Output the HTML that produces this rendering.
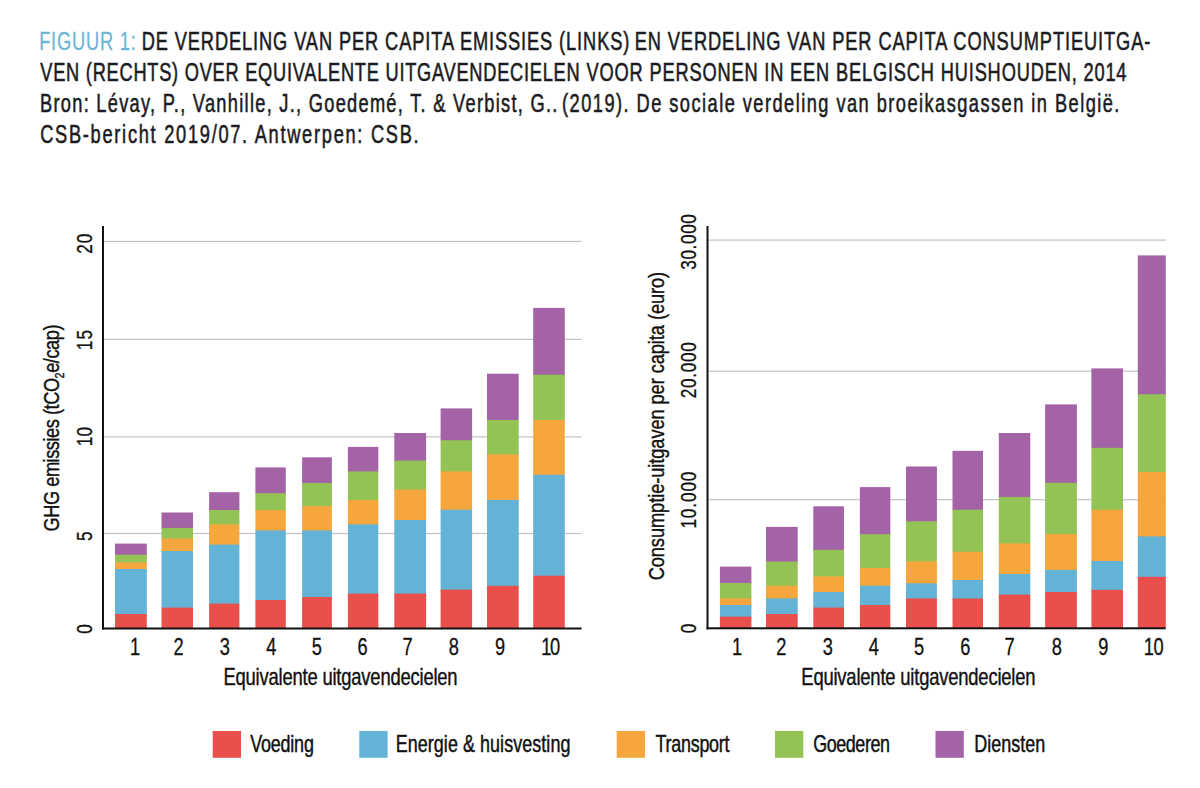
<!DOCTYPE html>
<html><head><meta charset="utf-8"><title>Figuur 1</title>
<style>
html,body{margin:0;padding:0;background:#fff;width:1200px;height:788px;overflow:hidden}
svg{display:block}
text{font-family:"Liberation Sans",sans-serif}
</style></head><body>
<svg width="1200" height="788" viewBox="0 0 1200 788">
<rect width="1200" height="788" fill="#fff"/>
<rect x="104" y="240.8" width="477.5" height="1.2" fill="#c2c2c2"/>
<rect x="104" y="338.79999999999995" width="477.5" height="1.2" fill="#c2c2c2"/>
<rect x="104" y="436.29999999999995" width="477.5" height="1.2" fill="#c2c2c2"/>
<rect x="104" y="532.9" width="477.5" height="1.2" fill="#c2c2c2"/>
<rect x="115.00" y="543.60" width="31.80" height="12.10" fill="#a363a6"/>
<rect x="115.00" y="554.70" width="31.80" height="8.60" fill="#93c355"/>
<rect x="115.00" y="562.30" width="31.80" height="7.70" fill="#f5a73e"/>
<rect x="115.00" y="569.00" width="31.80" height="46.00" fill="#63b3d7"/>
<rect x="115.00" y="614.00" width="31.80" height="14.50" fill="#e9504b"/>
<rect x="161.50" y="512.50" width="31.50" height="16.40" fill="#a363a6"/>
<rect x="161.50" y="527.90" width="31.50" height="11.60" fill="#93c355"/>
<rect x="161.50" y="538.50" width="31.50" height="13.50" fill="#f5a73e"/>
<rect x="161.50" y="551.00" width="31.50" height="57.60" fill="#63b3d7"/>
<rect x="161.50" y="607.60" width="31.50" height="20.90" fill="#e9504b"/>
<rect x="209.10" y="492.20" width="30.30" height="18.80" fill="#a363a6"/>
<rect x="209.10" y="510.00" width="30.30" height="15.30" fill="#93c355"/>
<rect x="209.10" y="524.30" width="30.30" height="21.30" fill="#f5a73e"/>
<rect x="209.10" y="544.60" width="30.30" height="60.00" fill="#63b3d7"/>
<rect x="209.10" y="603.60" width="30.30" height="24.90" fill="#e9504b"/>
<rect x="255.40" y="467.40" width="30.40" height="26.80" fill="#a363a6"/>
<rect x="255.40" y="493.20" width="30.40" height="17.80" fill="#93c355"/>
<rect x="255.40" y="510.00" width="30.40" height="21.40" fill="#f5a73e"/>
<rect x="255.40" y="530.40" width="30.40" height="70.60" fill="#63b3d7"/>
<rect x="255.40" y="600.00" width="30.40" height="28.50" fill="#e9504b"/>
<rect x="302.10" y="457.30" width="29.80" height="26.70" fill="#a363a6"/>
<rect x="302.10" y="483.00" width="29.80" height="24.00" fill="#93c355"/>
<rect x="302.10" y="506.00" width="29.80" height="25.40" fill="#f5a73e"/>
<rect x="302.10" y="530.40" width="29.80" height="67.60" fill="#63b3d7"/>
<rect x="302.10" y="597.00" width="29.80" height="31.50" fill="#e9504b"/>
<rect x="347.90" y="446.90" width="30.40" height="25.50" fill="#a363a6"/>
<rect x="347.90" y="471.40" width="30.40" height="29.50" fill="#93c355"/>
<rect x="347.90" y="499.90" width="30.40" height="25.50" fill="#f5a73e"/>
<rect x="347.90" y="524.40" width="30.40" height="70.20" fill="#63b3d7"/>
<rect x="347.90" y="593.60" width="30.40" height="34.90" fill="#e9504b"/>
<rect x="394.30" y="433.00" width="31.80" height="28.60" fill="#a363a6"/>
<rect x="394.30" y="460.60" width="31.80" height="30.00" fill="#93c355"/>
<rect x="394.30" y="489.60" width="31.80" height="31.40" fill="#f5a73e"/>
<rect x="394.30" y="520.00" width="31.80" height="74.60" fill="#63b3d7"/>
<rect x="394.30" y="593.60" width="31.80" height="34.90" fill="#e9504b"/>
<rect x="440.60" y="408.40" width="31.50" height="32.80" fill="#a363a6"/>
<rect x="440.60" y="440.20" width="31.50" height="32.20" fill="#93c355"/>
<rect x="440.60" y="471.40" width="31.50" height="39.30" fill="#f5a73e"/>
<rect x="440.60" y="509.70" width="31.50" height="80.90" fill="#63b3d7"/>
<rect x="440.60" y="589.60" width="31.50" height="38.90" fill="#e9504b"/>
<rect x="487.00" y="373.70" width="31.70" height="47.30" fill="#a363a6"/>
<rect x="487.00" y="420.00" width="31.70" height="35.30" fill="#93c355"/>
<rect x="487.00" y="454.30" width="31.70" height="46.60" fill="#f5a73e"/>
<rect x="487.00" y="499.90" width="31.70" height="86.90" fill="#63b3d7"/>
<rect x="487.00" y="585.80" width="31.70" height="42.70" fill="#e9504b"/>
<rect x="533.20" y="307.90" width="31.60" height="67.80" fill="#a363a6"/>
<rect x="533.20" y="374.70" width="31.60" height="46.30" fill="#93c355"/>
<rect x="533.20" y="420.00" width="31.60" height="55.80" fill="#f5a73e"/>
<rect x="533.20" y="474.80" width="31.60" height="101.90" fill="#63b3d7"/>
<rect x="533.20" y="575.70" width="31.60" height="52.80" fill="#e9504b"/>
<rect x="102" y="226" width="2" height="403.5" fill="#111"/>
<rect x="102" y="627.5" width="479.6" height="2" fill="#111"/>
<rect x="708.5" y="239.5" width="457.2" height="1.2" fill="#c2c2c2"/>
<rect x="708.5" y="370.59999999999997" width="457.2" height="1.2" fill="#c2c2c2"/>
<rect x="708.5" y="499.09999999999997" width="457.2" height="1.2" fill="#c2c2c2"/>
<rect x="719.90" y="566.60" width="31.50" height="17.40" fill="#a363a6"/>
<rect x="719.90" y="583.00" width="31.50" height="16.40" fill="#93c355"/>
<rect x="719.90" y="598.40" width="31.50" height="7.60" fill="#f5a73e"/>
<rect x="719.90" y="605.00" width="31.50" height="12.60" fill="#63b3d7"/>
<rect x="719.90" y="616.60" width="31.50" height="11.70" fill="#e9504b"/>
<rect x="766.00" y="526.90" width="31.70" height="35.60" fill="#a363a6"/>
<rect x="766.00" y="561.50" width="31.70" height="25.20" fill="#93c355"/>
<rect x="766.00" y="585.70" width="31.70" height="13.70" fill="#f5a73e"/>
<rect x="766.00" y="598.40" width="31.70" height="16.60" fill="#63b3d7"/>
<rect x="766.00" y="614.00" width="31.70" height="14.30" fill="#e9504b"/>
<rect x="813.30" y="506.30" width="30.70" height="44.50" fill="#a363a6"/>
<rect x="813.30" y="549.80" width="30.70" height="27.60" fill="#93c355"/>
<rect x="813.30" y="576.40" width="30.70" height="16.60" fill="#f5a73e"/>
<rect x="813.30" y="592.00" width="30.70" height="16.60" fill="#63b3d7"/>
<rect x="813.30" y="607.60" width="30.70" height="20.70" fill="#e9504b"/>
<rect x="859.90" y="487.10" width="30.40" height="48.10" fill="#a363a6"/>
<rect x="859.90" y="534.20" width="30.40" height="34.70" fill="#93c355"/>
<rect x="859.90" y="567.90" width="30.40" height="18.80" fill="#f5a73e"/>
<rect x="859.90" y="585.70" width="30.40" height="20.30" fill="#63b3d7"/>
<rect x="859.90" y="605.00" width="30.40" height="23.30" fill="#e9504b"/>
<rect x="906.00" y="466.50" width="30.90" height="55.80" fill="#a363a6"/>
<rect x="906.00" y="521.30" width="30.90" height="41.00" fill="#93c355"/>
<rect x="906.00" y="561.30" width="30.90" height="23.00" fill="#f5a73e"/>
<rect x="906.00" y="583.30" width="30.90" height="16.10" fill="#63b3d7"/>
<rect x="906.00" y="598.40" width="30.90" height="29.90" fill="#e9504b"/>
<rect x="952.50" y="450.80" width="30.50" height="59.90" fill="#a363a6"/>
<rect x="952.50" y="509.70" width="30.50" height="43.10" fill="#93c355"/>
<rect x="952.50" y="551.80" width="30.50" height="29.20" fill="#f5a73e"/>
<rect x="952.50" y="580.00" width="30.50" height="19.50" fill="#63b3d7"/>
<rect x="952.50" y="598.50" width="30.50" height="29.80" fill="#e9504b"/>
<rect x="998.80" y="433.00" width="31.50" height="64.90" fill="#a363a6"/>
<rect x="998.80" y="496.90" width="31.50" height="47.40" fill="#93c355"/>
<rect x="998.80" y="543.30" width="31.50" height="31.70" fill="#f5a73e"/>
<rect x="998.80" y="574.00" width="31.50" height="21.60" fill="#63b3d7"/>
<rect x="998.80" y="594.60" width="31.50" height="33.70" fill="#e9504b"/>
<rect x="1045.10" y="404.40" width="31.80" height="79.40" fill="#a363a6"/>
<rect x="1045.10" y="482.80" width="31.80" height="52.30" fill="#93c355"/>
<rect x="1045.10" y="534.10" width="31.80" height="36.80" fill="#f5a73e"/>
<rect x="1045.10" y="569.90" width="31.80" height="23.10" fill="#63b3d7"/>
<rect x="1045.10" y="592.00" width="31.80" height="36.30" fill="#e9504b"/>
<rect x="1091.40" y="368.40" width="31.60" height="80.40" fill="#a363a6"/>
<rect x="1091.40" y="447.80" width="31.60" height="62.90" fill="#93c355"/>
<rect x="1091.40" y="509.70" width="31.60" height="52.30" fill="#f5a73e"/>
<rect x="1091.40" y="561.00" width="31.60" height="29.80" fill="#63b3d7"/>
<rect x="1091.40" y="589.80" width="31.60" height="38.50" fill="#e9504b"/>
<rect x="1137.80" y="255.40" width="28.00" height="139.80" fill="#a363a6"/>
<rect x="1137.80" y="394.20" width="28.00" height="78.80" fill="#93c355"/>
<rect x="1137.80" y="472.00" width="28.00" height="65.40" fill="#f5a73e"/>
<rect x="1137.80" y="536.40" width="28.00" height="41.40" fill="#63b3d7"/>
<rect x="1137.80" y="576.80" width="28.00" height="51.50" fill="#e9504b"/>
<rect x="706.5" y="226" width="2" height="403.3" fill="#111"/>
<rect x="706.5" y="627.3" width="459.1" height="2" fill="#111"/>
<rect x="212.7" y="731" width="28.3" height="26.8" fill="#e9504b"/>
<rect x="359.3" y="731" width="28.3" height="26.8" fill="#63b3d7"/>
<rect x="616.7" y="731" width="28.3" height="26.8" fill="#f5a73e"/>
<rect x="775" y="731" width="28.3" height="26.8" fill="#93c355"/>
<rect x="935.5" y="731" width="28.3" height="26.8" fill="#a363a6"/>
<g transform="translate(87.50,50.3) scale(0.73,1)"><text id="fig" x="0" y="0" font-size="25.0" text-anchor="middle" fill="#6cb5d5" stroke="#6cb5d5" stroke-width="0.25" textLength="132.52" lengthAdjust="spacing">FIGUUR 1:</text></g>
<g transform="translate(385.50,50.3) scale(0.73,1)"><text id="l1a" x="0" y="0" font-size="25.0" text-anchor="middle" fill="#1b1b22" stroke="#1b1b22" stroke-width="0.55" textLength="668.07" lengthAdjust="spacing">DE VERDELING VAN PER CAPITA EMISSIES (LINKS)</text></g>
<g transform="translate(892.50,50.3) scale(0.73,1)"><text id="l1b" x="0" y="0" font-size="25.0" text-anchor="middle" fill="#1b1b22" stroke="#1b1b22" stroke-width="0.55" textLength="706.39" lengthAdjust="spacing">EN VERDELING VAN PER CAPITA CONSUMPTIEUITGA-</text></g>
<g transform="translate(310.00,81.2) scale(0.73,1)"><text id="l2a" x="0" y="0" font-size="25.0" text-anchor="middle" fill="#1b1b22" stroke="#1b1b22" stroke-width="0.55" textLength="738.91" lengthAdjust="spacing">VEN (RECHTS) OVER EQUIVALENTE UITGAVENDECIELEN</text></g>
<g transform="translate(856.50,81.2) scale(0.73,1)"><text id="l2b" x="0" y="0" font-size="25.0" text-anchor="middle" fill="#1b1b22" stroke="#1b1b22" stroke-width="0.55" textLength="739.76" lengthAdjust="spacing">VOOR PERSONEN IN EEN BELGISCH HUISHOUDEN, 2014</text></g>
<g transform="translate(298.65,111.8) scale(0.73,1)"><text id="l3a" x="0" y="0" font-size="25.0" text-anchor="middle" fill="#1b1b22" stroke="#1b1b22" stroke-width="0.55" textLength="708.63" lengthAdjust="spacing">Bron: Lévay, P., Vanhille, J., Goedemé, T. &amp; Verbist, G..</text></g>
<g transform="translate(840.75,111.8) scale(0.73,1)"><text id="l3b" x="0" y="0" font-size="25.0" text-anchor="middle" fill="#1b1b22" stroke="#1b1b22" stroke-width="0.55" textLength="763.52" lengthAdjust="spacing">(2019). De sociale verdeling van broeikasgassen in België.</text></g>
<g transform="translate(229.40,143) scale(0.73,1)"><text id="l4" x="0" y="0" font-size="25.0" text-anchor="middle" fill="#1b1b22" stroke="#1b1b22" stroke-width="0.55" textLength="518.57" lengthAdjust="spacing">CSB-bericht 2019/07. Antwerpen: CSB.</text></g>
<g transform="translate(92,243.80) rotate(-90) scale(0.8,1)"><text id="ly20" x="0" y="0" font-size="21.5" text-anchor="middle" fill="#111" stroke="#111" stroke-width="0.3" textLength="25.15" lengthAdjust="spacing">20</text></g>
<g transform="translate(92,340.10) rotate(-90) scale(0.8,1)"><text id="ly15" x="0" y="0" font-size="21.5" text-anchor="middle" fill="#111" stroke="#111" stroke-width="0.3" textLength="25.15" lengthAdjust="spacing">15</text></g>
<g transform="translate(92,436.50) rotate(-90) scale(0.8,1)"><text id="ly10" x="0" y="0" font-size="21.5" text-anchor="middle" fill="#111" stroke="#111" stroke-width="0.3" textLength="24.21" lengthAdjust="spacing">10</text></g>
<g transform="translate(92,536.10) rotate(-90) scale(0.8,1)"><text id="ly5" x="0" y="0" font-size="21.5" text-anchor="middle" fill="#111" stroke="#111" stroke-width="0.3">5</text></g>
<g transform="translate(92,628.90) rotate(-90) scale(0.8,1)"><text id="ly0" x="0" y="0" font-size="21.5" text-anchor="middle" fill="#111" stroke="#111" stroke-width="0.3">0</text></g>
<g transform="translate(135.00,655) scale(0.76,1)"><text id="lx1" x="0" y="0" font-size="24" text-anchor="middle" fill="#111" stroke="#111" stroke-width="0.3">1</text></g>
<g transform="translate(178.67,655) scale(0.76,1)"><text id="lx2" x="0" y="0" font-size="24" text-anchor="middle" fill="#111" stroke="#111" stroke-width="0.3">2</text></g>
<g transform="translate(224.80,655) scale(0.76,1)"><text id="lx3" x="0" y="0" font-size="24" text-anchor="middle" fill="#111" stroke="#111" stroke-width="0.3">3</text></g>
<g transform="translate(271.20,655) scale(0.76,1)"><text id="lx4" x="0" y="0" font-size="24" text-anchor="middle" fill="#111" stroke="#111" stroke-width="0.3">4</text></g>
<g transform="translate(316.88,655) scale(0.76,1)"><text id="lx5" x="0" y="0" font-size="24" text-anchor="middle" fill="#111" stroke="#111" stroke-width="0.3">5</text></g>
<g transform="translate(362.50,655) scale(0.76,1)"><text id="lx6" x="0" y="0" font-size="24" text-anchor="middle" fill="#111" stroke="#111" stroke-width="0.3">6</text></g>
<g transform="translate(407.53,655) scale(0.76,1)"><text id="lx7" x="0" y="0" font-size="24" text-anchor="middle" fill="#111" stroke="#111" stroke-width="0.3">7</text></g>
<g transform="translate(453.85,655) scale(0.76,1)"><text id="lx8" x="0" y="0" font-size="24" text-anchor="middle" fill="#111" stroke="#111" stroke-width="0.3">8</text></g>
<g transform="translate(500.15,655) scale(0.76,1)"><text id="lx9" x="0" y="0" font-size="24" text-anchor="middle" fill="#111" stroke="#111" stroke-width="0.3">9</text></g>
<g transform="translate(550.65,655) scale(0.76,1)"><text id="lx10" x="0" y="0" font-size="24" text-anchor="middle" fill="#111" stroke="#111" stroke-width="0.3" textLength="24.85" lengthAdjust="spacing">10</text></g>
<g transform="translate(340.50,684.5) scale(0.8,1)"><text id="lxt" x="0" y="0" font-size="23" text-anchor="middle" fill="#111" stroke="#111" stroke-width="0.4" textLength="292.78" lengthAdjust="spacing">Equivalente uitgavendecielen</text></g>
<g transform="translate(58.5,428.00) rotate(-90) scale(0.8,1)"><text id="lyt" x="0" y="0" font-size="22.8" text-anchor="middle" fill="#111" stroke="#111" stroke-width="0.4" textLength="258.80" lengthAdjust="spacing">GHG emissies (tCO<tspan font-size="13.5" dy="5.5">2</tspan><tspan dy="-5.5">e/cap)</tspan></text></g>
<g transform="translate(696.4,241.95) rotate(-90) scale(0.8,1)"><text id="ry30.000" x="0" y="0" font-size="21.5" text-anchor="middle" fill="#111" stroke="#111" stroke-width="0.3" textLength="69.53" lengthAdjust="spacing">30.000</text></g>
<g transform="translate(696.4,370.20) rotate(-90) scale(0.8,1)"><text id="ry20.000" x="0" y="0" font-size="21.5" text-anchor="middle" fill="#111" stroke="#111" stroke-width="0.3" textLength="70.08" lengthAdjust="spacing">20.000</text></g>
<g transform="translate(696.4,500.10) rotate(-90) scale(0.8,1)"><text id="ry10.000" x="0" y="0" font-size="21.5" text-anchor="middle" fill="#111" stroke="#111" stroke-width="0.3" textLength="71.20" lengthAdjust="spacing">10.000</text></g>
<g transform="translate(696.4,628.50) rotate(-90) scale(0.8,1)"><text id="ry0" x="0" y="0" font-size="21.5" text-anchor="middle" fill="#111" stroke="#111" stroke-width="0.3">0</text></g>
<g transform="translate(737.00,655) scale(0.76,1)"><text id="rx1" x="0" y="0" font-size="24" text-anchor="middle" fill="#111" stroke="#111" stroke-width="0.3">1</text></g>
<g transform="translate(781.40,655) scale(0.76,1)"><text id="rx2" x="0" y="0" font-size="24" text-anchor="middle" fill="#111" stroke="#111" stroke-width="0.3">2</text></g>
<g transform="translate(827.70,655) scale(0.76,1)"><text id="rx3" x="0" y="0" font-size="24" text-anchor="middle" fill="#111" stroke="#111" stroke-width="0.3">3</text></g>
<g transform="translate(873.85,655) scale(0.76,1)"><text id="rx4" x="0" y="0" font-size="24" text-anchor="middle" fill="#111" stroke="#111" stroke-width="0.3">4</text></g>
<g transform="translate(919.10,655) scale(0.76,1)"><text id="rx5" x="0" y="0" font-size="24" text-anchor="middle" fill="#111" stroke="#111" stroke-width="0.3">5</text></g>
<g transform="translate(965.20,655) scale(0.76,1)"><text id="rx6" x="0" y="0" font-size="24" text-anchor="middle" fill="#111" stroke="#111" stroke-width="0.3">6</text></g>
<g transform="translate(1009.65,655) scale(0.76,1)"><text id="rx7" x="0" y="0" font-size="24" text-anchor="middle" fill="#111" stroke="#111" stroke-width="0.3">7</text></g>
<g transform="translate(1056.90,655) scale(0.76,1)"><text id="rx8" x="0" y="0" font-size="24" text-anchor="middle" fill="#111" stroke="#111" stroke-width="0.3">8</text></g>
<g transform="translate(1103.40,655) scale(0.76,1)"><text id="rx9" x="0" y="0" font-size="24" text-anchor="middle" fill="#111" stroke="#111" stroke-width="0.3">9</text></g>
<g transform="translate(1153.65,655) scale(0.76,1)"><text id="rx10" x="0" y="0" font-size="24" text-anchor="middle" fill="#111" stroke="#111" stroke-width="0.3" textLength="26.16" lengthAdjust="spacing">10</text></g>
<g transform="translate(918.40,684.6) scale(0.8,1)"><text id="rxt" x="0" y="0" font-size="23" text-anchor="middle" fill="#111" stroke="#111" stroke-width="0.4" textLength="292.78" lengthAdjust="spacing">Equivalente uitgavendecielen</text></g>
<g transform="translate(664,426.10) rotate(-90) scale(0.8,1)"><text id="ryt" x="0" y="0" font-size="22.8" text-anchor="middle" fill="#111" stroke="#111" stroke-width="0.4" textLength="385.68" lengthAdjust="spacing">Consumptie-uitgaven per capita (euro)</text></g>
<g transform="translate(282.05,751.5) scale(0.78,1)"><text id="lg1" x="0" y="0" font-size="23" text-anchor="middle" fill="#111" stroke="#111" stroke-width="0.45" textLength="81.63" lengthAdjust="spacing">Voeding</text></g>
<g transform="translate(483.05,751.5) scale(0.78,1)"><text id="lg2" x="0" y="0" font-size="23" text-anchor="middle" fill="#111" stroke="#111" stroke-width="0.45" textLength="223.95" lengthAdjust="spacing">Energie &amp; huisvesting</text></g>
<g transform="translate(692.50,751.5) scale(0.78,1)"><text id="lg3" x="0" y="0" font-size="23" text-anchor="middle" fill="#111" stroke="#111" stroke-width="0.45" textLength="95.07" lengthAdjust="spacing">Transport</text></g>
<g transform="translate(851.60,751.5) scale(0.78,1)"><text id="lg4" x="0" y="0" font-size="23" text-anchor="middle" fill="#111" stroke="#111" stroke-width="0.45" textLength="98.52" lengthAdjust="spacing">Goederen</text></g>
<g transform="translate(1009.70,751.5) scale(0.78,1)"><text id="lg5" x="0" y="0" font-size="23" text-anchor="middle" fill="#111" stroke="#111" stroke-width="0.45" textLength="91.05" lengthAdjust="spacing">Diensten</text></g>
</svg>
</body></html>
